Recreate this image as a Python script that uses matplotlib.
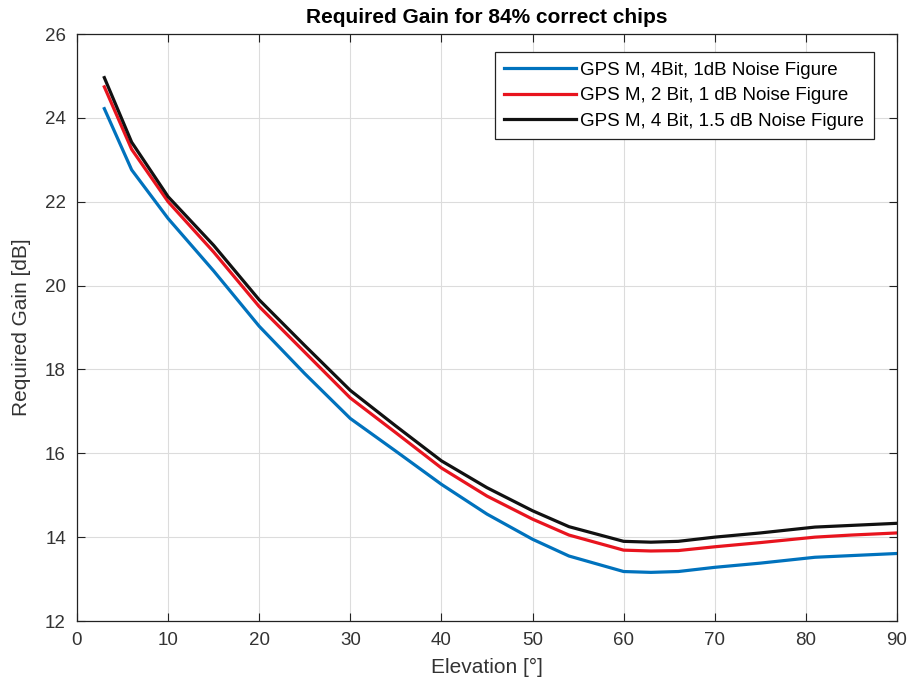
import matplotlib.pyplot as plt

plt.rcParams['font.family'] = ['Liberation Sans', 'DejaVu Sans']

elevation = [3, 6, 10, 15, 20, 25, 30, 35, 40, 45, 50, 54, 60, 63, 66, 70, 75, 81, 85, 90]

gain_4bit_1db = [24.22, 22.76, 21.6, 20.35, 19.03, 17.9, 16.83, 16.05, 15.26, 14.55, 13.95, 13.55,
                 13.18, 13.16, 13.18, 13.28, 13.38, 13.52, 13.56, 13.61]
gain_2bit_1db = [24.74, 23.25, 22.0, 20.8, 19.5, 18.41, 17.32, 16.49, 15.65, 14.98, 14.43, 14.05,
                 13.69, 13.67, 13.68, 13.77, 13.87, 14.0, 14.05, 14.1]
gain_4bit_15db = [24.96, 23.42, 22.12, 20.96, 19.66, 18.57, 17.5, 16.65, 15.82, 15.18, 14.63, 14.25,
                  13.9, 13.88, 13.9, 14.0, 14.1, 14.24, 14.28, 14.33]

labels = ["GPS M, 4Bit, 1dB Noise Figure",
          "GPS M, 2 Bit, 1 dB Noise Figure",
          "GPS M, 4 Bit, 1.5 dB Noise Figure"]

fig = plt.figure(figsize=(9.09, 6.9), dpi=100)
ax = fig.add_axes([0.0847, 0.1, 0.902, 0.8507])

ax.plot(elevation, gain_4bit_1db, color='#0072BD', lw=2.3, label=labels[0])
ax.plot(elevation, gain_2bit_1db, color='#E8141E', lw=2.3, label=labels[1])
ax.plot(elevation, gain_4bit_15db, color='#111111', lw=2.3, label=labels[2])

ax.set_xlim(0, 90)
ax.set_ylim(12, 26)
ax.set_xticks(range(0, 91, 10))
ax.set_yticks(range(12, 27, 2))
ax.grid(True, color='#dcdcdc', lw=0.8)
ax.set_axisbelow(True)
ax.tick_params(direction='in', top=True, right=True, length=6, labelsize=13.5,
               labelcolor='#333333', color='#222222', pad=8)
for s in ax.spines.values():
    s.set_color('#222222')
    s.set_linewidth(0.9)

ax.set_xlabel("Elevation [°]", fontsize=15, color='#333333', labelpad=6)
ax.set_ylabel("Required Gain [dB]", fontsize=15, color='#333333', labelpad=10)
ax.set_title("Required Gain for 84% correct chips", fontsize=15, fontweight='bold', pad=8)

leg = ax.legend(loc='upper right', bbox_to_anchor=(0.983, 0.985), fontsize=13.5, handlelength=3.8,
                handletextpad=0.25, labelspacing=0.45, borderpad=0.5, fancybox=False,
                framealpha=1, edgecolor='#222222')
leg.get_frame().set_linewidth(0.9)

fig.savefig('out.png', dpi=100)
